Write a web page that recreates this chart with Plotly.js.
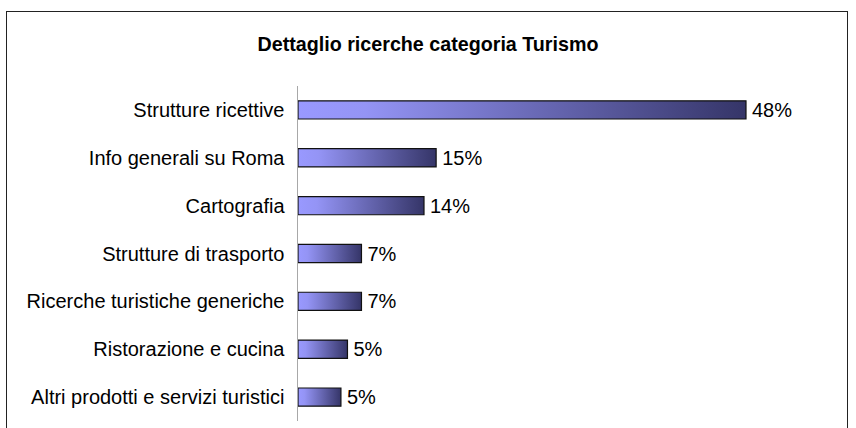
<!DOCTYPE html>
<html>
<head>
<meta charset="utf-8">
<script src="https://cdn.plot.ly/plotly-3.0.1.min.js"></script>
<style>
  html, body { margin: 0; padding: 0; background: #fff; }
  #wrap { position: relative; width: 856px; height: 428px; overflow: hidden; }
  #chart { width: 856px; height: 428px; }
  #frame { position: absolute; left: 6px; top: 11px; width: 840px; height: 440px;
           border: 1.5px solid #222; pointer-events: none; }
</style>
</head>
<body>
<div id="wrap">
  <div id="chart"></div>
  <div id="frame"></div>
</div>
<script>
const categories = [
  "Strutture ricettive",
  "Info generali su Roma",
  "Cartografia",
  "Strutture di trasporto",
  "Ricerche turistiche generiche",
  "Ristorazione e cucina",
  "Altri prodotti e servizi turistici"
];
const values = [48.0, 14.8, 13.5, 6.8, 6.8, 5.3, 4.6];
const labels = ["48%", "15%", "14%", "7%", "7%", "5%", "5%"];

const FONT = "Liberation Sans, Arial, sans-serif";

const trace = {
  type: "bar",
  orientation: "h",
  y: categories,
  x: values,
  text: labels,
  textposition: "outside",
  constraintext: "none",
  cliponaxis: false,
  textfont: { family: FONT, size: 20, color: "#000" },
  marker: { color: "#7777cc", line: { color: "#111", width: 1.2 } },
  hoverinfo: "none"
};

const layout = {
  width: 856, height: 428,
  margin: { l: 298, r: 26, t: 86, b: 7 },
  paper_bgcolor: "#fff", plot_bgcolor: "#fff",
  showlegend: false,
  bargap: 0.62,
  font: { family: FONT, size: 20, color: "#000" },
  title: {
    text: "<b>Dettaglio ricerche categoria Turismo</b>",
    x: 0.5, xanchor: "center", y: 0.897, yanchor: "middle",
    font: { family: FONT, size: 19.7, color: "#000" }
  },
  xaxis: { range: [0, 57], visible: false, fixedrange: true },
  yaxis: {
    autorange: "reversed",
    showline: true, linecolor: "#a8a8a8", linewidth: 1.5,
    ticks: "", ticklabelstandoff: 8,
    showgrid: false, zeroline: false,
    tickfont: { family: FONT, size: 20, color: "#000" }
  }
};

Plotly.newPlot("chart", [trace], layout, { displayModeBar: false, staticPlot: true }).then(function (gd) {
  const ns = "http://www.w3.org/2000/svg";
  const svg = gd.querySelector("svg.main-svg");
  let defs = svg.querySelector("defs");
  if (!defs) { defs = document.createElementNS(ns, "defs"); svg.insertBefore(defs, svg.firstChild); }
  const grad = document.createElementNS(ns, "linearGradient");
  grad.setAttribute("id", "barGrad");
  grad.setAttribute("x1", "0"); grad.setAttribute("y1", "0");
  grad.setAttribute("x2", "1"); grad.setAttribute("y2", "0");
  [["0", "#9999ff"], ["0.15", "#9494f5"], ["1", "#353568"]].forEach(function (s) {
    const st = document.createElementNS(ns, "stop");
    st.setAttribute("offset", s[0]);
    st.setAttribute("stop-color", s[1]);
    grad.appendChild(st);
  });
  defs.appendChild(grad);
  gd.querySelectorAll(".bars .point path").forEach(function (p) {
    p.style.fill = "url(#barGrad)";
  });
  gd.querySelectorAll(".bars .point text").forEach(function (t) {
    const x = parseFloat(t.getAttribute("x") || "0");
    t.setAttribute("x", x + 3);
  });
});
</script>
</body>
</html>
